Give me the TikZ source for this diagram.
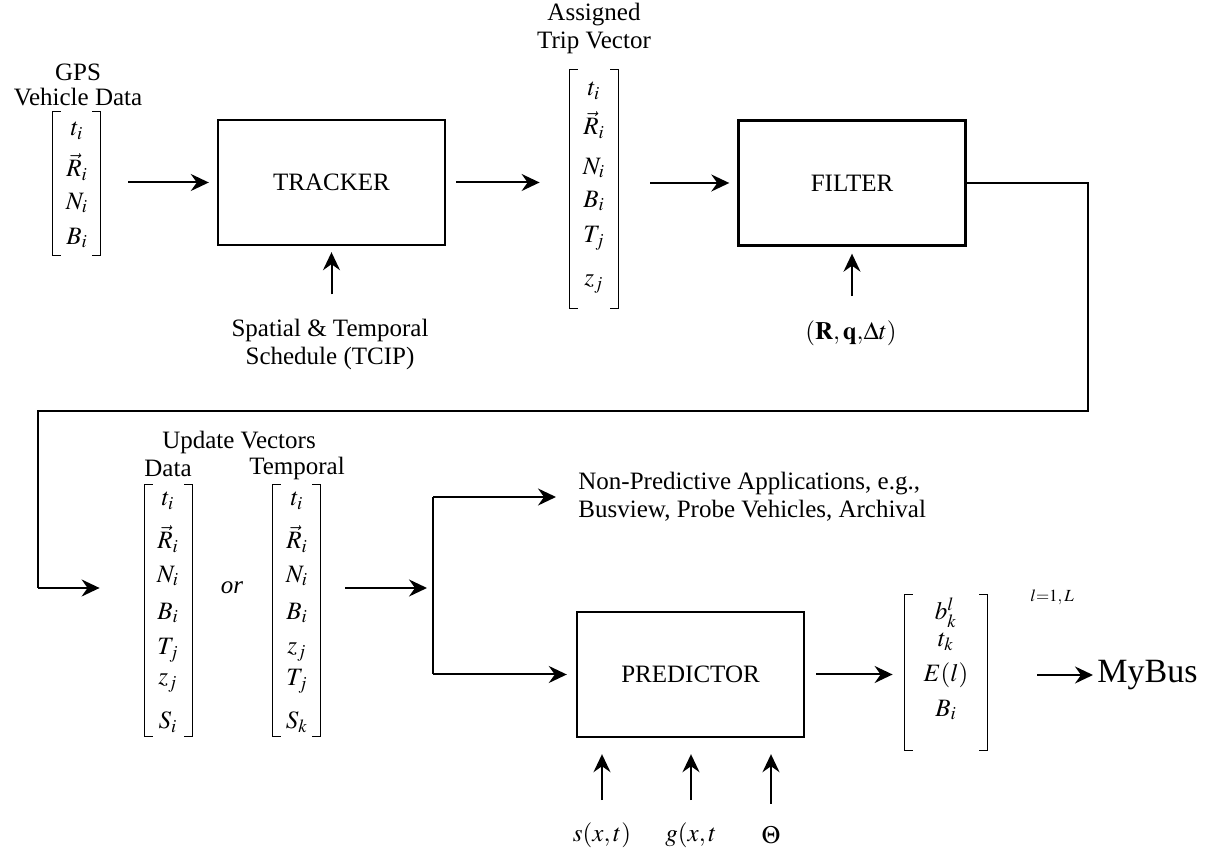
\documentclass[tikz,border=0pt]{standalone}
\usepackage{mathptmx}
\usepackage{fontspec}
\setmainfont{Liberation Serif}
\usetikzlibrary{arrows.meta}

\newcommand{\brackets}[1]{%
  \draw[brk] ([xshift=4pt]#1.north west) -- (#1.north west) -- (#1.south west) -- ([xshift=4pt]#1.south west);
  \draw[brk] ([xshift=-4pt]#1.north east) -- (#1.north east) -- (#1.south east) -- ([xshift=-4pt]#1.south east);}

\begin{document}
\begin{tikzpicture}[x=0.5pt, y=-0.5pt,
    font=\fontsize{12.5}{14}\selectfont,
    arr/.style={line width=1pt, -{Stealth[length=9pt, width=8.5pt, inset=3pt]}},
    block/.style={draw, line width=1.2pt, minimum width=113.5pt, minimum height=62.5pt},
    vec/.style={inner sep=0pt, minimum width=23.5pt},
    brk/.style={line width=0.6pt},
    ent/.style={inner sep=0pt},
    lbl/.style={align=center, inner sep=0pt}]
  \useasboundingbox (0,0) rectangle (1206,849);

  % top row
  \node[lbl, font=\fontsize{12.5}{12.5}\selectfont] (gpstitle) at (78,85) {GPS\\Vehicle Data};
  \node[vec, minimum height=71.5pt] (gps) at (76.5,183.5) {};
  \brackets{gps}
  \foreach \e/\y [count=\k] in {t_i/131, \vec{R}_i/167, N_i/203, B_i/238}
    \node[ent] (gps\k) at (77,\y) {$\e$};

  \node[block] (tracker) at (331.5,182.5) {TRACKER};
  \node[lbl] (sched) at (330,344) {Spatial \& Temporal\\Schedule (TCIP)};

  \node[lbl] (triptitle) at (594,28) {Assigned\\Trip Vector};
  \node[vec, minimum width=24pt, minimum height=119pt] (trip) at (594,189) {};
  \brackets{trip}
  \foreach \e/\y [count=\k] in {t_i/91, \vec{R}_i/125, N_i/168, B_i/201, T_j/238, z_j/284}
    \node[ent] (trip\k) at (594,\y) {$\e$};

  \node[block] (filter) at (852,183) {FILTER};
  \node[ent] (param) at (851,333) {$\mathbf{(R,q,}\Delta t\mathbf{)}$};

  \draw[arr, shorten <=14pt, shorten >=4pt] (gps.east |- tracker.west) -- (tracker.west);
  \draw[arr, shorten <=12pt, shorten >=3pt] (sched.north -| tracker.south) -- (tracker.south);
  \draw[arr, shorten <=5pt, shorten >=15pt] (tracker.east) -- (tracker.east -| trip.west);
  \draw[arr, shorten <=16pt, shorten >=4pt] (trip.east |- filter.west) -- (filter.west);
  \draw[arr, shorten <=12pt, shorten >=3.5pt] (param.north -| filter.south) -- (filter.south);

  % bottom row
  \node[lbl] (updtitle) at (239,442) {Update Vectors};
  \node[ent] (datatitle) at (168,468) {Data};
  \node[ent] (temptitle) at (297,468) {Temporal};

  \node[vec, minimum height=125.5pt] (data) at (168.5,610.5) {};
  \brackets{data}
  \foreach \e/\y [count=\k] in {t_i/501, \vec{R}_i/539, N_i/576, B_i/613, T_j/650, z_j/683, S_i/722}
    \node[ent] (data\k) at (168,\y) {$\e$};

  \node[ent] (or) at (232,588) {\textit{or}};

  \node[vec, minimum height=125.5pt] (temp) at (296.5,610.5) {};
  \brackets{temp}
  \foreach \e/\y [count=\k] in {t_i/501, \vec{R}_i/539, N_i/576, B_i/613, z_j/652, T_j/681, S_k/722}
    \node[ent] (temp\k) at (297,\y) {$\e$};

  \coordinate (split) at (433,588);
  \node[lbl, anchor=west, align=left] (nonpred) at (578,497)
    {Non-Predictive Applications, e.g.,\\Busview, Probe Vehicles, Archival};
  \node[block] (predictor) at (690.5,674.5) {PREDICTOR};

  \node[vec, minimum width=41pt, minimum height=77.5pt] (out) at (946,672.5) {};
  \brackets{out}
  \foreach \e/\y [count=\k] in {b_k^l/613, t_k/642, E(l)/675, B_i/710}
    \node[ent] (out\k) at (946,\y) {$\e$};
  \node[ent, anchor=west, font=\fontsize{8.5}{10}\selectfont] (range) at (1030,597) {$l{=}1,L$};
  \node[ent, anchor=west, font=\fontsize{17}{19}\selectfont] (mybus) at (1097,675) {MyBus};

  \node[ent] (s) at (602,835) {$s(x,t)$};
  \node[ent] (g) at (691,835) {$g(x,t$};
  \node[ent] (theta) at (771,835) {$\Theta$};

  \draw[line width=1pt] (filter.east) -- (1088,183) -- (1088,411) -- (38,411) -- (38,588);
  \draw[arr, shorten >=22.5pt] (38,588) -- (data.west |- or.west);
  \draw[arr, shorten <=12.5pt, shorten >=3pt] (temp.east |- split) -- (split);
  \draw[line width=1pt] (split) -- (split |- nonpred.west) (split) -- (split |- predictor.west);
  \draw[arr, shorten >=11pt] (split |- nonpred.west) -- (nonpred.west);
  \draw[arr, shorten >=4.5pt] (split |- predictor.west) -- (predictor.west);
  \draw[arr, shorten <=5.5pt, shorten >=6pt] (predictor.east) -- (predictor.east -| out.west);
  \draw[arr, shorten <=25pt, shorten >=2pt] (out.east |- mybus.west) -- (mybus.west);
  \draw[arr, shorten <=11pt, shorten >=8pt] (s.north) -- (s.north |- predictor.south);
  \draw[arr, shorten <=11pt, shorten >=8pt] (g.north) -- (g.north |- predictor.south);
  \draw[arr, shorten <=11pt, shorten >=8pt] (theta.north) -- (theta.north |- predictor.south);
\end{tikzpicture}
\end{document}
